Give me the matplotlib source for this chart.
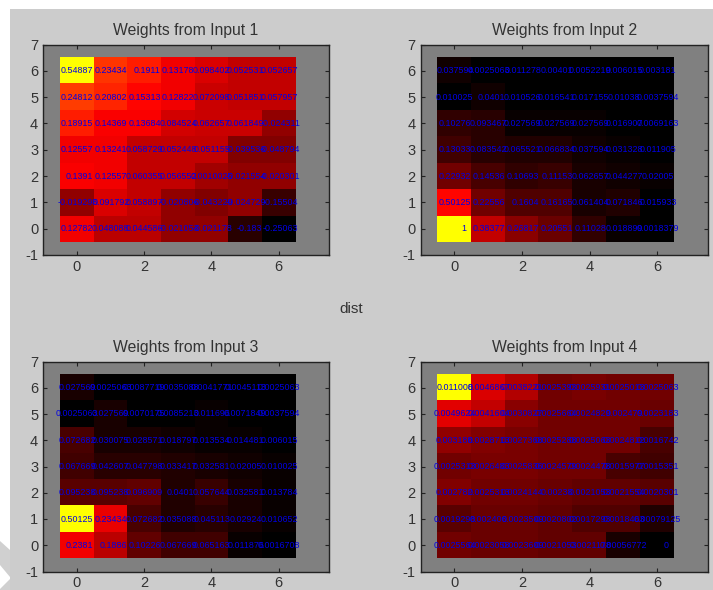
#!/usr/bin/python
# -*-coding: utf-8 -*-

import matplotlib

matplotlib.use("Agg")
import matplotlib.pyplot as plt
import numpy as np
from matplotlib.colors import LinearSegmentedColormap
from matplotlib.patches import Polygon, Rectangle

# rows run from y=0 (first) up to y=6 (last)
input_1 = [
    [0.12782, 0.048088, 0.044586, -0.021053, -0.021178, -0.183, -0.25063],
    [-0.019298, 0.091792, 0.058897, -0.020806, -0.043229, -0.024729, -0.15504],
    [0.1391, 0.12557, 0.060355, 0.056552, 0.0010025, -0.021554, -0.020301],
    [0.12557, 0.13241, 0.058729, 0.052448, 0.051155, -0.039536, -0.048794],
    [0.18915, 0.14369, 0.13684, 0.084524, 0.062657, 0.061849, -0.024311],
    [0.24812, 0.20802, 0.15313, 0.12822, 0.072098, 0.051851, 0.057957],
    [0.54887, 0.23434, 0.1911, 0.13178, 0.098402, 0.052531, 0.052657],
]
input_2 = [
    [1, 0.38377, 0.26817, 0.20551, 0.11028, 0.018899, 0.0018379],
    [0.50125, 0.22556, 0.1604, 0.16165, 0.061404, 0.071846, 0.015933],
    [0.22932, 0.14536, 0.10693, 0.11153, 0.062657, 0.044277, 0.02005],
    [0.13033, 0.083542, 0.065521, 0.066834, 0.037594, 0.031328, 0.011905],
    [0.10276, 0.093467, 0.027569, 0.027569, 0.027569, 0.016907, 0.0069163],
    [0.010025, 0.0401, 0.010526, 0.016541, 0.017155, 0.01038, 0.0037594],
    [0.037594, 0.0025063, 0.011278, 0.00401, 0.0052219, 0.006015, 0.003181],
]
input_3 = [
    [0.2381, 0.1886, 0.10226, 0.067669, 0.065163, 0.011876, 0.0016708],
    [0.50125, 0.23434, 0.072682, 0.035088, 0.045113, 0.02924, 0.010652],
    [0.095238, 0.095238, 0.096909, 0.0401, 0.057644, 0.032581, 0.013784],
    [0.067669, 0.042607, 0.047798, 0.033417, 0.032581, 0.02005, 0.010025],
    [0.072682, 0.030075, 0.028571, 0.018797, 0.013534, 0.014481, 0.006015],
    [0.0025063, 0.027569, 0.0070175, 0.0085213, 0.011696, 0.0071849, 0.0037594],
    [0.027569, 0.0025063, 0.0087719, 0.0035088, 0.0041771, 0.0045113, 0.0025063],
]
input_4 = [
    [0.0025564, 0.0023058, 0.0023609, 0.0021053, 0.0021178, 0.00056772, 0],
    [0.0019298, 0.002406, 0.0023509, 0.0020802, 0.0017293, 0.0018463, 0.00079125],
    [0.002782, 0.0025313, 0.0024144, 0.00238, 0.0021053, 0.0021554, 0.0020301],
    [0.0025313, 0.0026483, 0.0025836, 0.0024579, 0.0024478, 0.0015977, 0.0015351],
    [0.003188, 0.0028713, 0.0027368, 0.0025288, 0.0025063, 0.0024812, 0.0016742],
    [0.0049624, 0.0041604, 0.0030827, 0.0025664, 0.0024829, 0.002479, 0.0023183],
    [0.011008, 0.0046867, 0.0038221, 0.0025393, 0.0025931, 0.0025013, 0.0025063],
]
panels = [input_1, input_2, input_3, input_4]
titles = ["Weights from Input 1", "Weights from Input 2", "Weights from Input 3", "Weights from Input 4"]
x_ticks = [0, 2, 4, 6]
y_ticks = [-1, 0, 1, 2, 3, 4, 5, 6, 7]
center_label = "dist"

W, H = 713, 590
# left, top, right, bottom of each axes, in pixels from the top left corner
boxes = [(43, 44.5, 329, 255), (420.5, 44.5, 708, 255), (43, 361.5, 329, 571.5), (420.5, 361.5, 708, 571.5)]

plt.rcParams["font.family"] = ["Liberation Sans", "DejaVu Sans"]
plt.rcParams["axes.unicode_minus"] = False
cmap = LinearSegmentedColormap.from_list("black_red_yellow", ["#000000", "#ff0000", "#ffff00"], N=64)

fig = plt.figure(figsize=(W / 100, H / 100), dpi=100, facecolor="white")
# the grey scraps of a watermark in the white strip on the left
for corners in ([(0, 541), (10, 550), (10, 577), (0, 565)], [(0, 589), (10, 579), (10, 590), (0, 590)]):
    fig.add_artist(
        Polygon([(x / W, 1 - y / H) for x, y in corners], transform=fig.transFigure, facecolor="#d0d0d0",
                edgecolor="none", zorder=-2)
    )
fig.add_artist(
    Rectangle((10 / W, 0), 1 - 10 / W, 1 - 9 / H, transform=fig.transFigure, facecolor="#cccccc",
              edgecolor="none", zorder=-1)
)

for values, title, box in zip(panels, titles, boxes):
    left, top, right, bottom = box
    ax = fig.add_axes([left / W, 1 - bottom / H, (right - left) / W, (bottom - top) / H])
    ax.set_facecolor("#808080")
    data = np.array(values, dtype=float)
    ax.imshow(data, origin="lower", cmap=cmap, aspect="auto", interpolation="nearest", vmin=data.min(), vmax=data.max())
    for row in range(data.shape[0]):
        for col in range(data.shape[1]):
            label = "{0:.5g}".format(data[row, col])
            # long numbers run past the cell edge, a lone digit stops short of it
            shift = -0.15 if len(label) == 1 else 0.07 * max(len(label) - 7, 0)
            ax.text(col + 0.5 + shift, row, label, color="#0000e6", fontsize=6.4,
                    ha="right", va="center", clip_on=False)
    ax.set_xlim(-1, 7.5)
    ax.set_ylim(-1, 7)
    ax.set_xticks(x_ticks)
    ax.set_yticks(y_ticks)
    ax.tick_params(direction="in", length=3, width=0.8, color="#222222", top=True, right=True,
                   labelsize=10.5, labelcolor="#333333", pad=3.5)
    for spine in ax.spines.values():
        spine.set_color("#222222")
        spine.set_linewidth(1.0)
    ax.set_title(title, fontsize=11.3, color="#333333", pad=7)

fig.text(351 / W, 1 - 309 / H, center_label, fontsize=11, color="#333333", ha="center", va="center")
fig.savefig("out.png", dpi=100)
